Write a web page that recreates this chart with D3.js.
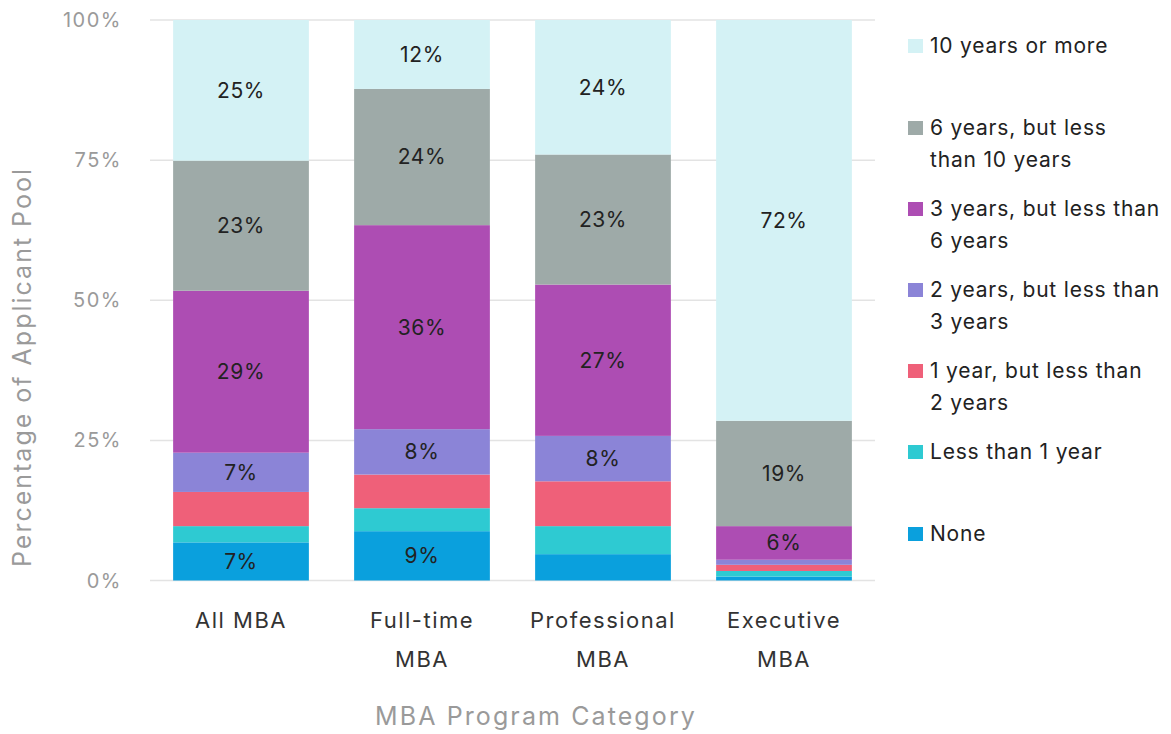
<!DOCTYPE html>
<html>
<head>
<meta charset="utf-8">
<script src="https://cdn.jsdelivr.net/npm/d3@7"></script>
<style>
  body { margin: 0; background: #fff; }
  text { font-family: "Inter", "Noto Sans", sans-serif; }
</style>
</head>
<body>
<div id="chart"></div>
<script>
// categories and series
var categories = [["All MBA"], ["Full-time", "MBA"], ["Professional", "MBA"], ["Executive", "MBA"]];
var seriesNames = ["None", "Less than 1 year", "1 year, but less than 2 years", "2 years, but less than 3 years",
  "3 years, but less than 6 years", "6 years, but less than 10 years", "10 years or more"];
var seriesColors = ["#0aa0dd", "#2ecad2", "#ef6079", "#8b84d7", "#ad4db3", "#9eaaa8", "#d4f2f5"];

// values per series, one per category
var noneVals = [6.8, 8.8, 4.7, 0.7];
var lessOneVals = [2.9, 4.1, 5.0, 1.0];
var oneTwoVals = [6.1, 6.0, 8.0, 1.1];
var twoThreeVals = [7.0, 8.1, 8.1, 0.9];
var threeSixVals = [28.9, 36.4, 27.0, 6.0];
var sixTenVals = [23.2, 24.3, 23.2, 18.8];
var tenPlusVals = [25.1, 12.3, 24.0, 71.5];

// printed labels (null = not printed)
var noneLabels = ["7%", "9%", null, null];
var lessOneLabels = [null, null, null, null];
var oneTwoLabels = [null, null, null, null];
var twoThreeLabels = ["7%", "8%", "8%", null];
var threeSixLabels = ["29%", "36%", "27%", "6%"];
var sixTenLabels = ["23%", "24%", "23%", "19%"];
var tenPlusLabels = ["25%", "12%", "24%", "72%"];

var yTicks = [0, 25, 50, 75, 100];

var legendLines = [["10 years or more"], ["6 years, but less", "than 10 years"], ["3 years, but less than", "6 years"],
  ["2 years, but less than", "3 years"], ["1 year, but less than", "2 years"], ["Less than 1 year"], ["None"]];

var allVals = [noneVals, lessOneVals, oneTwoVals, twoThreeVals, threeSixVals, sixTenVals, tenPlusVals];
var allLabels = [noneLabels, lessOneLabels, oneTwoLabels, twoThreeLabels, threeSixLabels, sixTenLabels, tenPlusLabels];

var svgWidth = 1171, svgHeight = 734;
var svg = d3.select("#chart").append("svg")
  .attr("width", svgWidth)
  .attr("height", svgHeight);

var x = d3.scaleBand()
  .domain(d3.range(categories.length))
  .range([150.5, 874.5])
  .paddingInner(0.25)
  .paddingOuter(0.125);

var y = d3.scaleLinear()
  .domain([0, 100])
  .range([580.5, 20]);

// gridlines
svg.append("g").selectAll("line")
  .data(yTicks)
  .enter().append("line")
  .attr("x1", 150).attr("x2", 875)
  .attr("y1", d => y(d)).attr("y2", d => y(d))
  .attr("stroke", "#e3e3e3")
  .attr("stroke-width", 1.5);

// y tick labels
svg.append("g").selectAll("text")
  .data(yTicks)
  .enter().append("text")
  .attr("x", 122).attr("y", d => y(d))
  .attr("dy", "0.35em")
  .attr("text-anchor", "end")
  .attr("fill", "#9a9a9a")
  .style("font-size", "20px")
  .style("letter-spacing", "1.5px")
  .text(d => d + "%");

// build stacked rows
var rows = categories.map(function(c, i) {
  var r = {};
  seriesNames.forEach(function(s, j) { r[s] = allVals[j][i]; });
  r.idx = i;
  return r;
});
var stacked = d3.stack().keys(seriesNames)(rows);

var layers = svg.append("g").selectAll("g")
  .data(stacked)
  .enter().append("g")
  .attr("fill", (d, i) => seriesColors[i]);

layers.selectAll("rect")
  .data(d => d)
  .enter().append("rect")
  .attr("x", d => x(d.data.idx))
  .attr("width", x.bandwidth())
  .attr("y", d => y(d[1]))
  .attr("height", d => y(d[0]) - y(d[1]));

// segment labels
layers.each(function(layer, j) {
  d3.select(this).selectAll("text")
    .data(layer.filter(d => allLabels[j][d.data.idx] != null))
    .enter().append("text")
    .attr("x", d => x(d.data.idx) + x.bandwidth() / 2)
    .attr("y", d => (y(d[0]) + y(d[1])) / 2)
    .attr("dy", "0.35em")
    .attr("text-anchor", "middle")
    .attr("fill", "#222")
    .style("font-size", "21px")
    .style("letter-spacing", "0.6px")
    .text(d => allLabels[j][d.data.idx]);
});

// x category labels
var xl = svg.append("g").selectAll("text")
  .data(categories)
  .enter().append("text")
  .attr("x", (d, i) => x(i) + x.bandwidth() / 2)
  .attr("y", 628)
  .attr("text-anchor", "middle")
  .attr("fill", "#333")
  .style("font-size", "22px")
  .style("letter-spacing", "1.5px");
xl.selectAll("tspan")
  .data(d => d)
  .enter().append("tspan")
  .attr("x", function() { return d3.select(this.parentNode).attr("x"); })
  .attr("dy", (d, i) => i === 0 ? 0 : 39)
  .text(d => d);

// axis titles
svg.append("text")
  .attr("x", 536).attr("y", 725)
  .attr("text-anchor", "middle")
  .attr("fill", "#9a9a9a")
  .style("font-size", "25px")
  .style("letter-spacing", "2.1px")
  .text("MBA Program Category");

svg.append("text")
  .attr("transform", "translate(31, 367) rotate(-90)")
  .attr("text-anchor", "middle")
  .attr("fill", "#9a9a9a")
  .style("font-size", "25px")
  .style("letter-spacing", "2px")
  .text("Percentage of Applicant Pool");

// legend (top item first)
var legendY = [46, 128, 209, 290, 371, 452, 534];
var legend = svg.append("g").selectAll("g")
  .data(legendLines)
  .enter().append("g")
  .attr("transform", (d, i) => `translate(908, ${legendY[i]})`);

legend.append("rect")
  .attr("x", 0).attr("y", -7)
  .attr("width", 15).attr("height", 14)
  .attr("fill", (d, i) => seriesColors[seriesColors.length - 1 - i]);

legend.append("text")
  .attr("x", 22).attr("y", 0)
  .attr("fill", "#222")
  .style("font-size", "21px")
  .style("letter-spacing", "0.8px")
  .selectAll("tspan")
  .data(d => d)
  .enter().append("tspan")
  .attr("x", 22)
  .attr("dy", (d, i) => i === 0 ? "0.35em" : "32px")
  .text(d => d);
</script>
</body>
</html>
